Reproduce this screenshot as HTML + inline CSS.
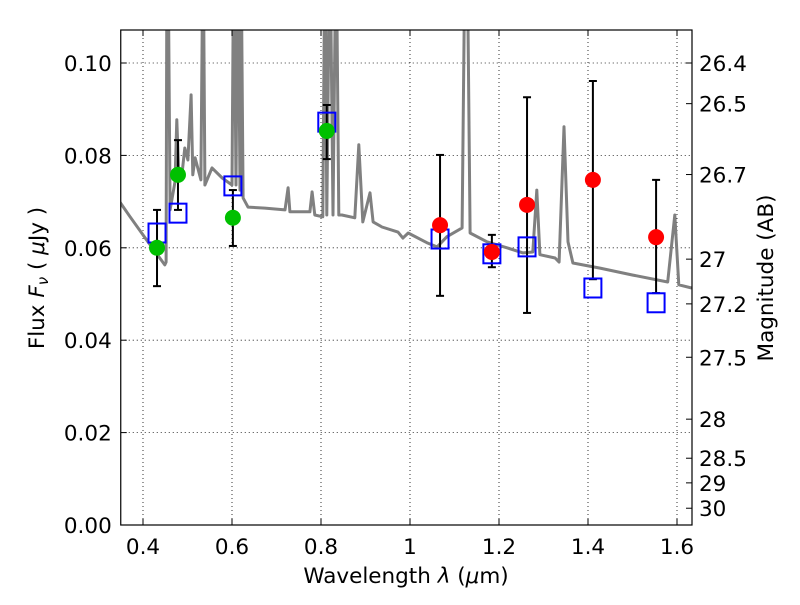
<!DOCTYPE html>
<html><head><meta charset="utf-8"><style>
body{margin:0;background:#fff}
svg text{font-family:"DejaVu Sans","Liberation Sans",sans-serif;fill:#000}
</style></head><body>
<svg id="chart" width="800" height="600" xmlns="http://www.w3.org/2000/svg"></svg>
<script>
const specLam=[0.348,0.371,0.411,0.449,0.452,0.454,0.456,0.461,0.472,0.476,0.481,0.488,0.494,0.501,0.508,0.512,0.517,0.530,0.535,0.539,0.555,0.578,0.600,0.604,0.609,0.613,0.618,0.620,0.625,0.636,0.674,0.719,0.726,0.730,0.775,0.780,0.786,0.804,0.809,0.813,0.820,0.827,0.834,0.840,0.847,0.876,0.885,0.894,0.910,0.917,0.937,0.973,0.984,0.996,1.038,1.061,1.083,1.117,1.124,1.128,1.135,1.173,1.218,1.254,1.276,1.285,1.292,1.326,1.335,1.346,1.355,1.366,1.427,1.501,1.579,1.595,1.604,1.633];
const specFlux=[0.0699,0.0667,0.0613,0.0563,0.0569,0.13,0.13,0.0682,0.0743,0.0877,0.0747,0.0764,0.0816,0.0790,0.0931,0.0758,0.0795,0.0747,0.13,0.0736,0.0773,0.0751,0.0736,0.13,0.0736,0.13,0.0725,0.13,0.0708,0.0688,0.0686,0.0682,0.0730,0.0678,0.0678,0.0721,0.0671,0.0667,0.13,0.0671,0.13,0.0671,0.13,0.0671,0.0671,0.0665,0.0823,0.0656,0.0719,0.0656,0.0645,0.0634,0.0621,0.0632,0.0611,0.0602,0.0624,0.0643,0.13,0.13,0.0632,0.0613,0.0600,0.0589,0.0591,0.0725,0.0585,0.0578,0.0569,0.0862,0.0613,0.0567,0.0556,0.0541,0.0526,0.0671,0.0520,0.0513];
const greenLam=[0.4315,0.4786,0.602,0.813];
const greenFlux=[0.0600,0.0758,0.0665,0.0853];
const greenLo=[0.0517,0.0682,0.0604,0.0792];
const greenHi=[0.0682,0.0833,0.0725,0.0909];
const redLam=[1.0675,1.184,1.263,1.411,1.553];
const redFlux=[0.0649,0.0591,0.0693,0.0747,0.0623];
const redLo=[0.0496,0.0558,0.0459,0.0532,0.0502];
const redHi=[0.0801,0.0628,0.0926,0.0961,0.0747];
const boxLam=[0.4315,0.4786,0.602,0.813,1.0675,1.184,1.263,1.411,1.553];
const boxFlux=[0.0632,0.0675,0.0734,0.0872,0.0619,0.0587,0.0602,0.0513,0.0481];
const xTicks=[0.4,0.6,0.8,1.0,1.2,1.4,1.6];
const xTickLabels=["0.4","0.6","0.8","1","1.2","1.4","1.6"];
const yTicks=[0,0.02,0.04,0.06,0.08,0.10];
const yTickLabels=["0.00","0.02","0.04","0.06","0.08","0.10"];
const magTicks=[26.4,26.5,26.7,27,27.2,27.5,28,28.5,29,30];
const magLabels=["26.4","26.5","26.7","27","27.2","27.5","28","28.5","29","30"];

const L=120.75,R=692,T=30,B=525;
const X=v=>L+(v-0.35)*445;
const Y=v=>B-v*4620;
const svg=document.getElementById('chart');
const NS='http://www.w3.org/2000/svg';
function mk(tag,attrs,parent){const e=document.createElementNS(NS,tag);for(const k in attrs)e.setAttribute(k,attrs[k]);(parent||svg).appendChild(e);return e;}
const defs=mk('defs',{});
const cp=mk('clipPath',{id:'clip'},defs);
mk('rect',{x:L,y:T,width:R-L,height:B-T},cp);

const grid=mk('g',{});


xTicks.forEach(v=>{mk('line',{x1:X(v),x2:X(v),y1:T,y2:B,stroke:'#000','stroke-width':0.8,'stroke-dasharray':'1,3'},grid);});
yTicks.forEach(v=>{mk('line',{x1:L,x2:R,y1:Y(v),y2:Y(v),stroke:'#000','stroke-width':0.8,'stroke-dasharray':'1,3'},grid);});

const plot=mk('g',{'clip-path':'url(#clip)'});
let d='';specLam.forEach((l,i)=>{d+=(i?'L':'M')+X(l).toFixed(1)+','+Y(specFlux[i]).toFixed(1);});
const sp=mk('path',{d:d,fill:'none',stroke:'#808080','stroke-width':3,'stroke-linejoin':'round'},plot);



function err(lam,lo,hi,name){
  const g=mk('g',{},plot);
  
  
  const x=X(lam);
  mk('line',{x1:x,x2:x,y1:Y(lo),y2:Y(hi),stroke:'#000','stroke-width':2},g);
  mk('line',{x1:x-4,x2:x+4,y1:Y(lo),y2:Y(lo),stroke:'#000','stroke-width':2},g);
  mk('line',{x1:x-4,x2:x+4,y1:Y(hi),y2:Y(hi),stroke:'#000','stroke-width':2},g);
}
greenLam.forEach((l,i)=>err(l,greenLo[i],greenHi[i],'green-errorbar'));
redLam.forEach((l,i)=>err(l,redLo[i],redHi[i],'red-errorbar'));
boxLam.forEach((l,i)=>{
  const r=mk('rect',{x:X(l)-8.5,y:Y(boxFlux[i])-9.5,width:17,height:19,fill:'none',stroke:'#0000ff','stroke-width':2},plot);
  
  
});
greenLam.forEach((l,i)=>{
  const c=mk('circle',{cx:X(l),cy:Y(greenFlux[i]),r:8,fill:'#00c000'},plot);
  
  
});
redLam.forEach((l,i)=>{
  const c=mk('circle',{cx:X(l),cy:Y(redFlux[i]),r:8,fill:'#ff0000'},plot);
  
  
});

const fr=mk('rect',{x:L,y:T,width:R-L,height:B-T,fill:'none',stroke:'#000','stroke-width':1.2});



xTicks.forEach((v,i)=>{
  mk('line',{x1:X(v),x2:X(v),y1:B,y2:B-6,stroke:'#000'});
  mk('line',{x1:X(v),x2:X(v),y1:T,y2:T+6,stroke:'#000'});
  const t=mk('text',{x:X(v),y:B+29,'text-anchor':'middle','font-size':21.5});
  t.textContent=xTickLabels[i];
  
  
});
yTicks.forEach((v,i)=>{
  mk('line',{x1:L,x2:L+6,y1:Y(v),y2:Y(v),stroke:'#000'});
  const t=mk('text',{x:L-9,y:Y(v)+8,'text-anchor':'end','font-size':21.5});
  t.textContent=yTickLabels[i];
  
  
});
magTicks.forEach((m,i)=>{
  const f=Math.pow(10,(23.9-m)/2.5);
  const y=Y(f);
  mk('line',{x1:R-6,x2:R,y1:y,y2:y,stroke:'#000'});
  const t=mk('text',{x:R+7,y:y+8,'font-size':21.5});
  t.textContent=magLabels[i];
  
  
});
</script>
<svg style="position:absolute;left:0;top:0" width="800" height="600" xmlns="http://www.w3.org/2000/svg">
<text x="406" y="583" text-anchor="middle" font-size="21.5">Wavelength  <tspan font-style="italic">λ</tspan> (<tspan font-style="italic">μ</tspan>m)</text>
<text transform="translate(44,278) rotate(-90)" text-anchor="middle" font-size="21.5">Flux  <tspan font-style="italic">F</tspan><tspan font-style="italic" font-size="15" dy="4">ν</tspan><tspan dy="-4">  (  </tspan><tspan font-style="italic">μ</tspan>Jy )</text>
<text transform="translate(773,278) rotate(-90)" text-anchor="middle" font-size="21.5">Magnitude (AB)</text>
</svg>
</body></html>
